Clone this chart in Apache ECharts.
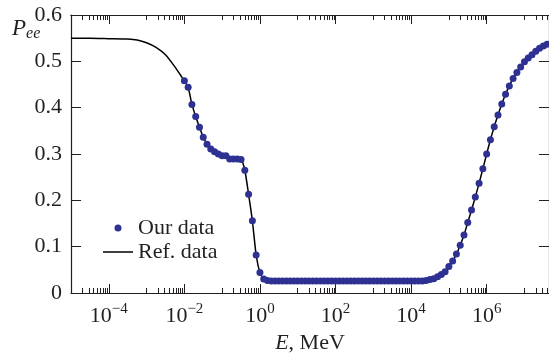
<!DOCTYPE html>
<html>
<head>
<meta charset="utf-8">
<script src="https://cdn.jsdelivr.net/npm/echarts@6/dist/echarts.min.js"></script>
<style>
  html, body { margin: 0; padding: 0; background: #fff; }
  #main { width: 549px; height: 360px; }
</style>
</head>
<body>
<div id="main"></div>
<script>
// log10 of energy (MeV) for the computed points
var ourLogE = [
  -2.0, -1.9, -1.8, -1.7, -1.6, -1.5, -1.4, -1.3, -1.2, -1.1,
  -1.0, -0.9, -0.8, -0.7, -0.6, -0.5, -0.4, -0.3, -0.2, -0.1,
  0.0, 0.1, 0.2, 0.3, 0.4, 0.5, 0.6, 0.7, 0.8, 0.9,
  1.0, 1.1, 1.2, 1.3, 1.4, 1.5, 1.6, 1.7, 1.8, 1.9,
  2.0, 2.1, 2.2, 2.3, 2.4, 2.5, 2.6, 2.7, 2.8, 2.9,
  3.0, 3.1, 3.2, 3.3, 3.4, 3.5, 3.6, 3.7, 3.8, 3.9,
  4.0, 4.1, 4.2, 4.3, 4.4, 4.5, 4.6, 4.7, 4.8, 4.9,
  5.0, 5.1, 5.2, 5.3, 5.4, 5.5, 5.6, 5.7, 5.8, 5.9,
  6.0, 6.1, 6.2, 6.3, 6.4, 6.5, 6.6, 6.7, 6.8, 6.9,
  7.0, 7.1, 7.2, 7.3, 7.4, 7.5, 7.6
];
var ourP = [
  0.458, 0.444, 0.407, 0.381, 0.358, 0.336, 0.321, 0.311, 0.305, 0.300,
  0.296, 0.296, 0.289, 0.289, 0.289, 0.288, 0.265, 0.213, 0.156, 0.082,
  0.044, 0.030, 0.027, 0.026, 0.026, 0.026, 0.026, 0.026, 0.026, 0.026,
  0.026, 0.026, 0.026, 0.026, 0.026, 0.026, 0.026, 0.026, 0.026, 0.026,
  0.026, 0.026, 0.026, 0.026, 0.026, 0.026, 0.026, 0.026, 0.026, 0.026,
  0.026, 0.026, 0.026, 0.026, 0.026, 0.026, 0.026, 0.026, 0.026, 0.026,
  0.026, 0.026, 0.026, 0.026, 0.027, 0.029, 0.031, 0.035, 0.040, 0.046,
  0.057, 0.069, 0.084, 0.103, 0.125, 0.152, 0.179, 0.207, 0.237, 0.268,
  0.300, 0.331, 0.359, 0.384, 0.408, 0.429, 0.447, 0.463, 0.476, 0.488,
  0.499, 0.507, 0.514, 0.522, 0.528, 0.533, 0.537
];
// reference curve below the first computed point
var refLogE = [-5.0, -4.5, -4.0, -3.5, -3.25, -3.0, -2.75, -2.5, -2.25, -2.1];
var refP = [0.550, 0.550, 0.549, 0.548, 0.546, 0.540, 0.530, 0.514, 0.488, 0.470];

var labelExp = [-4, -2, 0, 2, 4, 6];
var minorExp = [-5, -3, -1, 1, 3, 5, 7];
var minorMult = [1, 2, 3, 4, 5, 6, 7, 8, 9];

var ink = '#231f20';
var serif = 'Liberation Serif';
var dotColor = '#2e3192';

var ourData = ourLogE.map(function (e, i) { return [Math.pow(10, e), ourP[i]]; });
var refData = refLogE.map(function (e, i) { return [Math.pow(10, e), refP[i]]; })
  .concat(ourData);

var majorTicks = labelExp.map(function (e) { return Math.pow(10, e); });
var minorTicks = [];
minorExp.forEach(function (e) {
  minorMult.forEach(function (m) { minorTicks.push(m * Math.pow(10, e)); });
});

var xMin = 1e-5, xMax = Math.pow(10, 7.65);

function xAxisDef(pos, major, withLabels) {
  return {
    type: 'log',
    logBase: 10,
    position: pos,
    min: xMin,
    max: xMax,
    axisLine: { show: withLabels || pos === 'top', lineStyle: { color: ink, width: 1.2 } },
    splitLine: { show: false },
    minorTick: { show: false },
    axisTick: {
      inside: true,
      length: major ? 9 : 5,
      customValues: major ? majorTicks : minorTicks,
      lineStyle: { color: ink, width: 1 }
    },
    axisLabel: withLabels ? {
      customValues: majorTicks,
      margin: 9,
      formatter: function (v) {
        var e = Math.round(Math.log10(v));
        return '{b|10}{s|' + (e < 0 ? '\u2212' : '') + Math.abs(e) + '}';
      },
      rich: {
        b: { fontFamily: serif, fontSize: 22, color: ink, lineHeight: 28 },
        s: { fontFamily: serif, fontSize: 15, color: ink, verticalAlign: 'top', lineHeight: 15 }
      }
    } : { show: false },
    name: withLabels ? '{i|E}, MeV' : '',
    nameLocation: 'middle',
    nameGap: 38,
    nameTextStyle: {
      fontFamily: serif, fontSize: 22, color: ink,
      rich: {
        i: { fontFamily: serif, fontSize: 22, color: ink, fontStyle: 'italic' }
      }
    }
  };
}

function yAxisDef(pos, withLabels) {
  return {
    type: 'value',
    position: pos,
    min: 0,
    max: 0.6,
    interval: 0.1,
    axisLine: { show: true, lineStyle: { color: ink, width: 1.2 } },
    splitLine: { show: false },
    axisTick: { inside: true, length: 10, lineStyle: { color: ink, width: 1 } },
    axisLabel: withLabels ? {
      margin: 9, fontFamily: serif, fontSize: 22, color: ink
    } : { show: false }
  };
}

var chart = echarts.init(document.getElementById('main'));
chart.setOption({
  animation: false,
  backgroundColor: '#fff',
  title: {
    text: '{p|P}{s|ee}',
    left: 12,
    top: 16,
    padding: 0,
    textStyle: {
      fontWeight: 'normal',
      rich: {
        p: { fontFamily: serif, fontSize: 23, fontStyle: 'italic', fontWeight: 'normal', color: ink, lineHeight: 26 },
        s: { fontFamily: serif, fontSize: 16, fontStyle: 'italic', fontWeight: 'normal', color: ink, verticalAlign: 'bottom', lineHeight: 12 }
      }
    }
  },
  legend: {
    orient: 'vertical',
    left: 103,
    top: 217,
    padding: 0,
    itemWidth: 30,
    itemHeight: 7,
    itemGap: 2,
    data: [
      { name: 'Our data', icon: 'circle' },
      { name: 'Ref. data', icon: 'path://M0,0L30,0L30,1.5L0,1.5Z' }
    ],
    textStyle: { fontFamily: serif, fontSize: 22, color: ink, lineHeight: 22 }
  },
  grid: { left: 71, right: -4, top: 15, bottom: 67, containLabel: false },
  xAxis: [
    xAxisDef('bottom', true, true),
    xAxisDef('bottom', false, false),
    xAxisDef('top', true, false),
    xAxisDef('top', false, false)
  ],
  yAxis: [
    yAxisDef('left', true),
    yAxisDef('right', false)
  ],
  series: [
    {
      name: 'Ref. data',
      type: 'line',
      data: refData,
      showSymbol: false,
      symbol: 'none',
      smooth: 0.2,
      lineStyle: { color: '#000', width: 1.5 },
      itemStyle: { color: '#000' },
      z: 2
    },
    {
      name: 'Our data',
      type: 'scatter',
      data: ourData,
      symbolSize: 7,
      itemStyle: { color: dotColor, opacity: 1 },
      z: 3
    }
  ]
});
</script>
</body>
</html>
